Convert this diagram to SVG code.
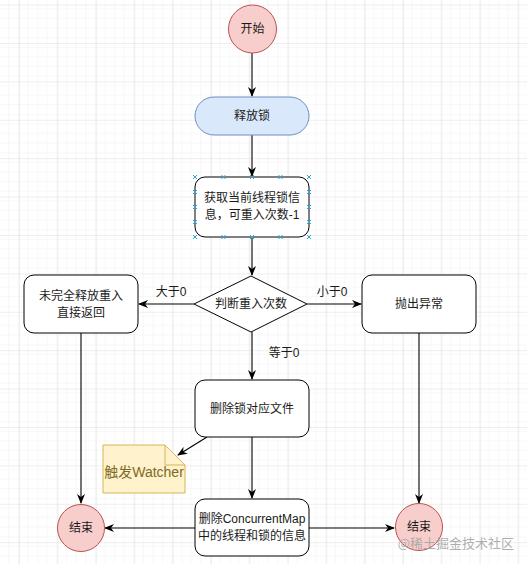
<svg xmlns="http://www.w3.org/2000/svg" width="527" height="564" viewBox="0 0 527 564">
<defs>
<pattern id="minor" x="0" y="4.6" width="9.6" height="9.6" patternUnits="userSpaceOnUse">
<path d="M9.6 0V9.6M0 9.6H9.6" fill="none" stroke="#efefef" stroke-width="1"/>
</pattern>
<pattern id="major" x="19" y="4.6" width="38.4" height="38.4" patternUnits="userSpaceOnUse">
<rect width="38.4" height="38.4" fill="url(#minor)"/>
<path d="M0 0V38.4M0 0H38.4" fill="none" stroke="#dedede" stroke-width="1"/>
</pattern>
<marker id="arr" viewBox="0 0 10 8" refX="9" refY="4" markerWidth="10" markerHeight="8" markerUnits="userSpaceOnUse" orient="auto">
<path d="M0,0 L10,4 L0,8 L3,4 z" fill="#000"/>
</marker>
<style>
.t{font-family:"Liberation Sans","Noto Sans CJK SC",sans-serif;font-size:12px;fill:#1a1a1a;text-anchor:middle;dominant-baseline:central}
.box{fill:#fff;stroke:#000;stroke-width:1}
.term{fill:#f8cecc;stroke:#b85450;stroke-width:1}
.e{fill:none;stroke:#000;stroke-width:1.1;marker-end:url(#arr)}
.h{stroke:#29a8e0;stroke-width:1}
</style>
</defs>
<rect width="527" height="564" fill="#fff"/>
<rect width="527" height="564" fill="url(#major)"/>

<g id="edges">
<line class="e" x1="252" y1="53" x2="252" y2="96"/>
<line class="e" x1="252" y1="135" x2="252" y2="176"/>
<line class="e" x1="252" y1="237" x2="252" y2="275"/>
<line class="e" x1="194" y1="304" x2="139" y2="304"/>
<line class="e" x1="307" y1="304" x2="361" y2="304"/>
<line class="e" x1="252" y1="332" x2="252" y2="379"/>
<line class="e" x1="81" y1="333" x2="81" y2="503"/>
<line class="e" x1="419" y1="333" x2="419" y2="503"/>
<line class="e" x1="252" y1="437" x2="252" y2="498"/>
<line class="e" x1="207" y1="437" x2="178" y2="455"/>
<line class="e" x1="195" y1="528" x2="105" y2="528"/>
<line class="e" x1="309" y1="528" x2="394" y2="528"/>
<text class="t" x="171" y="292">大于0</text>
<text class="t" x="332" y="292">小于0</text>
<text class="t" x="284" y="353">等于0</text>
</g>

<g id="start">
<circle class="term" cx="252.5" cy="29" r="24"/>
<text class="t" x="252.5" y="29">开始</text>
</g>

<g id="release">
<rect x="195" y="97" width="114" height="38" rx="19" fill="#dae8fc" stroke="#6c8ebf" stroke-width="1"/>
<text class="t" x="252" y="116">释放锁</text>
</g>

<g id="getinfo">
<rect class="box" x="195" y="177" width="114" height="60" rx="10"/>
<text class="t" x="252" y="198">获取当前线程锁信</text>
<text class="t" x="252" y="215">息，可重入次数-1</text>
<g class="h">
<path d="M193 175l4 4m0-4l-4 4M221.5 175l4 4m0-4l-4 4M250 175l4 4m0-4l-4 4M278.5 175l4 4m0-4l-4 4M307 175l4 4m0-4l-4 4"/>
<path d="M193 235l4 4m0-4l-4 4M221.5 235l4 4m0-4l-4 4M250 235l4 4m0-4l-4 4M278.5 235l4 4m0-4l-4 4M307 235l4 4m0-4l-4 4"/>
<path d="M193 190l4 4m0-4l-4 4M193 205l4 4m0-4l-4 4M193 220l4 4m0-4l-4 4"/>
<path d="M307 190l4 4m0-4l-4 4M307 205l4 4m0-4l-4 4M307 220l4 4m0-4l-4 4"/>
</g>
</g>

<g id="decide">
<polygon class="box" points="251,276 307,304 251,332 194,304"/>
<text class="t" x="251" y="304">判断重入次数</text>
</g>

<g id="partial">
<rect class="box" x="24" y="275" width="114" height="58" rx="10"/>
<text class="t" x="81" y="296">未完全释放重入</text>
<text class="t" x="81" y="313">直接返回</text>
</g>

<g id="throw">
<rect class="box" x="362" y="275" width="114" height="58" rx="10"/>
<text class="t" x="419" y="304">抛出异常</text>
</g>

<g id="delfile">
<rect class="box" x="195" y="380" width="114" height="57" rx="10"/>
<text class="t" x="252" y="409">删除锁对应文件</text>
</g>

<g id="note">
<path d="M103 445H165L185 465V493H103Z" fill="#fff2cc" stroke="#d6b656" stroke-width="1"/>
<path d="M165 445V465H185" fill="none" stroke="#d6b656" stroke-width="1"/>
<text class="t" x="144" y="472" style="font-size:14px;fill:#7d6a24">触发Watcher</text>
</g>

<g id="delmap">
<rect class="box" x="195" y="499" width="114" height="57" rx="10"/>
<text class="t" x="252" y="519">删除ConcurrentMap</text>
<text class="t" x="252" y="536">中的线程和锁的信息</text>
</g>

<g id="end1">
<circle class="term" cx="81" cy="528" r="23.5"/>
<text class="t" x="81" y="528">结束</text>
</g>

<g id="end2">
<circle class="term" cx="419" cy="527" r="23.5"/>
<text class="t" x="419" y="527">结束</text>
</g>

<text x="514" y="542" style="font-family:'Noto Sans CJK SC','Liberation Sans',sans-serif;font-size:13px;fill:#a0a0a0;fill-opacity:0.85;text-anchor:end;dominant-baseline:central">@稀土掘金技术社区</text>
</svg>
